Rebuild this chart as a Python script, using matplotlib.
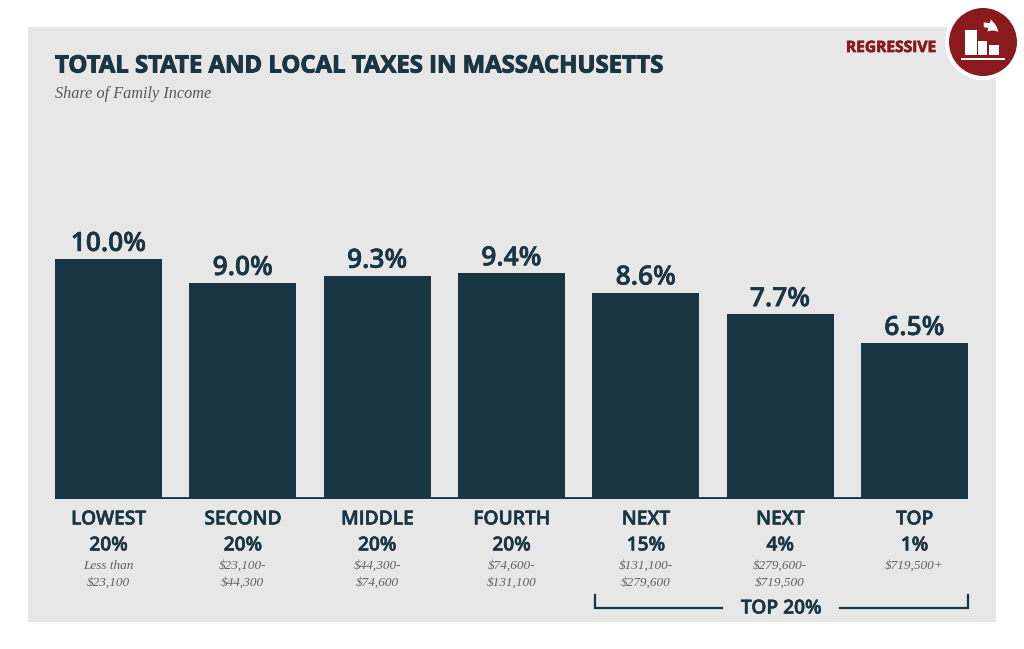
import matplotlib
matplotlib.use("Agg")
import matplotlib.pyplot as plt
import matplotlib.patheffects as pe
from matplotlib.patches import Rectangle, Circle, FancyArrowPatch

# Data
groups = ["LOWEST\n20%", "SECOND\n20%", "MIDDLE\n20%", "FOURTH\n20%", "NEXT\n15%", "NEXT\n4%", "TOP\n1%"]
incomes = ["Less than\n$23,100", "$23,100-\n$44,300", "$44,300-\n$74,600", "$74,600-\n$131,100",
           "$131,100-\n$279,600", "$279,600-\n$719,500", "$719,500+"]
shares = [10.0, 9.0, 9.3, 9.4, 8.6, 7.7, 6.5]
labels = ["10.0%", "9.0%", "9.3%", "9.4%", "8.6%", "7.7%", "6.5%"]

navy = "#1a3543"
grey = "#e7e7e7"
red = "#8a1a1e"
W, H = 1024, 649


def heavy(width, color=navy):
    # Open Sans only comes in one weight here, thicken it with a stroke
    return [pe.withStroke(linewidth=width, foreground=color)]


fig = plt.figure(figsize=(10.24, 6.49), dpi=100, facecolor="white")

# Overlay in pixel coordinates for panel, header and badge
bg = fig.add_axes([0, 0, 1, 1])
bg.set_xlim(0, W)
bg.set_ylim(H, 0)
bg.axis("off")
bg.add_patch(Rectangle((28, 27), 968, 595, color=grey, lw=0))

bg.text(55, 66.5, "TOTAL STATE AND LOCAL TAXES IN MASSACHUSETTS", family="Open Sans", weight="bold",
        fontsize=17.2, color=navy, va="center", ha="left", path_effects=heavy(0.7))
bg.text(55, 94, "Share of Family Income", family="Liberation Serif", style="italic",
        fontsize=11.7, color="#55585a", va="center", ha="left")
bg.text(936, 48, "REGRESSIVE", family="Open Sans", weight="bold",
        fontsize=11.2, color=red, va="center", ha="right", path_effects=heavy(0.5, red))

# Badge
bg.add_patch(Circle((983, 42), 38, color="white", lw=0))
bg.add_patch(Circle((983, 42), 34, color=red, lw=0))
for x0, y0, w, h in [(965, 30, 12, 25), (978, 41, 9, 14), (989, 45, 10, 10)]:
    bg.add_patch(Rectangle((x0, y0), w, h, color="white", lw=0))
bg.add_patch(Rectangle((961, 57.5), 44, 2, color="white", lw=0))
bg.add_patch(FancyArrowPatch((981, 25), (1000, 34), connectionstyle="arc3,rad=-0.3",
                             arrowstyle="simple,head_width=9,head_length=8,tail_width=3.5",
                             color="white", lw=0))

# Bars
ax = fig.add_axes([55 / W, 1 - 499 / H, 913 / W, 288 / H])
ax.patch.set_alpha(0)
xs = list(range(len(shares)))
ax.bar(xs, shares, width=0.797, color=navy, linewidth=0)
ax.set_xlim(-0.3985, 6.3985)
ax.set_ylim(0, 12)
ax.axis("off")
ax.axhline(0.04, color=navy, lw=2)

for x, s, lab in zip(xs, shares, labels):
    ax.annotate(lab, (x, s), xytext=(0, 1.5), textcoords="offset points", ha="center", va="bottom",
                family="Open Sans", weight="semibold", fontsize=19, color=navy, path_effects=heavy(0.4))

# Category labels under the axis
tr = ax.get_xaxis_transform()
for x, g, inc in zip(xs, groups, incomes):
    ax.annotate(g, (x, 0), xycoords=tr, xytext=(0, -7.5), textcoords="offset points", ha="center", va="top",
                family="Open Sans", weight="semibold", fontsize=13.8, color=navy, linespacing=1.4,
                annotation_clip=False, path_effects=heavy(0.4))
    ax.annotate(inc, (x, 0), xycoords=tr, xytext=(0, -44), textcoords="offset points", ha="center", va="top",
                family="Liberation Serif", style="italic", fontsize=9.5, color="#5f6264", linespacing=1.5,
                annotation_clip=False)

# Top 20% bracket
bg.plot([594.5, 594.5, 722], [595, 608, 608], color=navy, lw=1.6, solid_joinstyle="miter")
bg.plot([840, 967.5, 967.5], [608, 608, 595], color=navy, lw=1.6, solid_joinstyle="miter")
bg.text(781, 608.5, "TOP 20%", family="Open Sans", weight="semibold", fontsize=13.8, color=navy,
        ha="center", va="center", path_effects=heavy(0.4))

fig.savefig("out.png", dpi=100)
